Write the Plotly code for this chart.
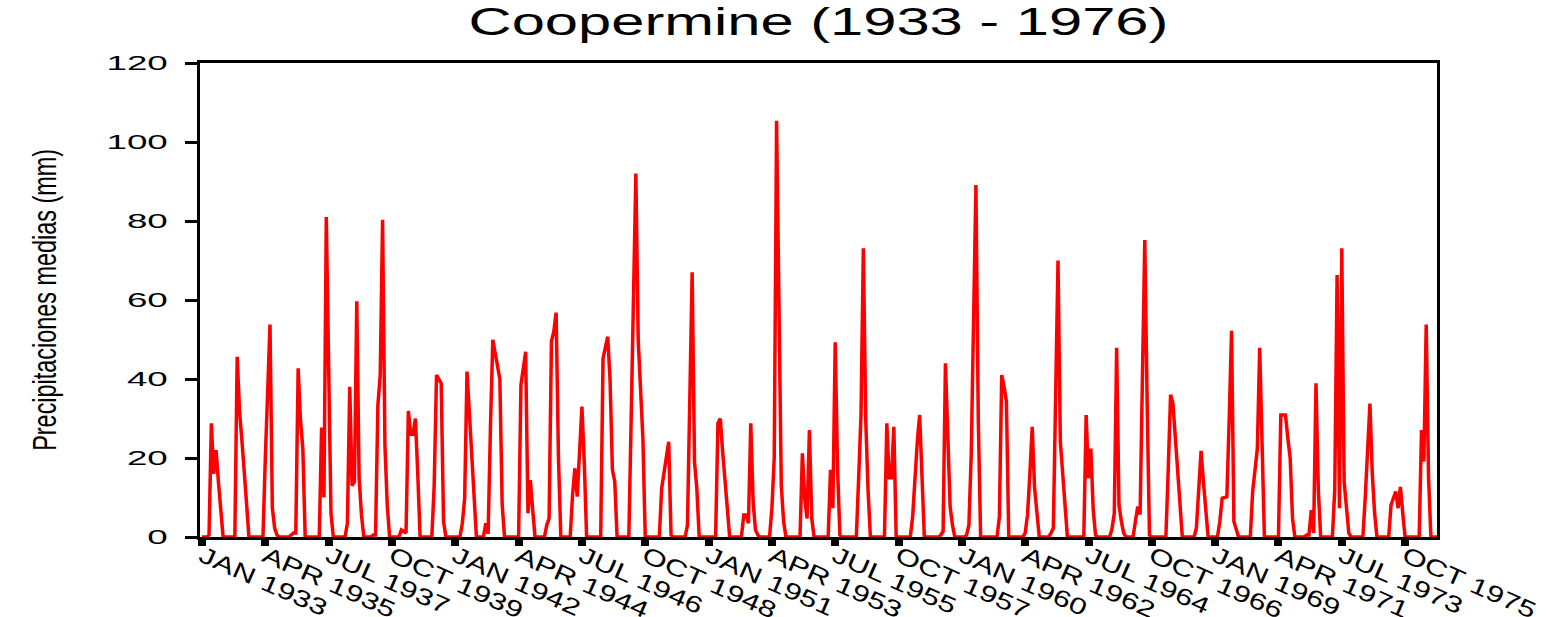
import plotly.graph_objects as go

years = list(range(1933, 1977))

p1933 = [0, 0, 0, 0.5, 28.8, 16, 22, 14, 5.6, 0, 0, 0]
p1934 = [0, 0, 0, 45.6, 32, 24.6, 15, 8.6, 0, 0, 0, 0]
p1935 = [0, 0, 0, 20, 38, 53.8, 7.3, 2.2, 0.5, 0, 0, 0]
p1936 = [0, 0, 0.5, 1, 1, 42.7, 29.6, 22.4, 0, 0, 0, 0]
p1937 = [0, 0, 0, 27.7, 10, 81, 45, 6, 0, 0, 0, 0]
p1938 = [0, 0, 3.5, 38, 13, 14, 59.7, 14.9, 5.6, 0, 0, 0]
p1939 = [0, 0.5, 0.5, 33.4, 41, 80.3, 23.3, 8, 0, 0, 0, 0]
p1940 = [0, 1.8, 1.5, 1, 31.9, 26, 26, 30, 16, 0, 0, 0]
p1941 = [0, 0, 0, 13, 41, 40, 38.9, 3.9, 0, 0, 0, 0]
p1942 = [0, 0, 0, 3.5, 9.8, 41.9, 30, 19.9, 10.6, 0, 0, 0]
p1943 = [0, 3.5, 0.8, 27.9, 49.9, 46.6, 43.3, 40, 8.2, 0, 0, 0]
p1944 = [0, 0, 0, 0, 38.5, 43, 46.9, 6, 14.4, 7, 0, 0]
p1945 = [0, 0, 0, 3, 4.7, 49.5, 52, 56.8, 20, 0, 0, 0]
p1946 = [0, 0, 10.6, 17.4, 10.2, 22, 33, 19, 0, 0, 0, 0]
p1947 = [0, 0, 0, 45.2, 48, 50.7, 39.7, 17, 14, 0, 0, 0]
p1948 = [0, 0, 0, 30, 64.6, 92, 49.9, 37, 25, 0, 0, 0]
p1949 = [0, 0, 0, 0, 12.3, 16, 19.9, 24.1, 0.5, 0, 0, 0]
p1950 = [0, 0, 0, 3, 35, 67, 19, 12.3, 0, 0, 0, 0]
p1951 = [0, 0, 0, 0, 28.8, 30, 21.6, 14, 6, 0, 0, 0]
p1952 = [0, 0, 0, 5.6, 5.6, 3.5, 28.8, 8.9, 1.8, 0.5, 0, 0]
p1953 = [0, 0, 0, 7.3, 20, 105.4, 55, 13.2, 3.9, 0, 0, 0]
p1954 = [0, 0, 0, 0, 21.2, 9.8, 4.7, 27.1, 4.7, 0, 0, 0]
p1955 = [0, 0, 0, 0, 17, 7.3, 49.3, 17.4, 0.5, 0, 0, 0]
p1956 = [0, 0, 0, 0, 14.9, 30.9, 73.1, 30, 12, 0, 0, 0]
p1957 = [0, 0, 0, 0, 28.8, 15, 15, 27.9, 0, 0, 0, 0]
p1958 = [0, 0, 0, 5, 15, 24.1, 30.9, 15, 0, 0, 0, 0]
p1959 = [0, 0, 0, 0.5, 1.4, 44, 22.4, 7.7, 3, 0, 0, 0]
p1960 = [0, 0, 0.5, 3, 20.8, 55, 89.1, 30, 0, 0, 0, 0]
p1961 = [0, 0, 0, 0, 5, 41, 38, 34.3, 0, 0, 0, 0]
p1962 = [0, 0, 0, 1, 5.6, 16, 27.9, 12.5, 6, 0, 0, 0]
p1963 = [0, 0, 1, 2.2, 36, 70, 24.1, 15, 8, 0, 0, 0]
p1964 = [0, 0, 0, 0, 0, 30.9, 14.9, 22.4, 7, 0.5, 0, 0]
p1965 = [0, 0, 0, 0, 2, 6, 47.9, 8.1, 4, 1, 0, 0]
p1966 = [0, 0, 4, 7.7, 5.7, 40, 75.2, 34.3, 0.5, 0, 0, 0]
p1967 = [0, 0, 0, 0, 17, 36, 33.8, 25.8, 16, 7, 0, 0]
p1968 = [0, 0, 0, 0, 2.2, 12, 21.8, 14, 6, 0, 0, 0]
p1969 = [0, 0, 4, 9.8, 10, 10.2, 30, 52.2, 3.9, 1.5, 0, 0]
p1970 = [0, 0, 0, 0, 11.5, 17, 22.4, 47.9, 20, 0, 0, 0]
p1971 = [0, 0, 0, 0, 30.9, 30.9, 30.9, 25, 19.9, 4.7, 0, 0]
p1972 = [0, 0, 0, 0.5, 0.5, 6.8, 1, 38.9, 12, 0, 0, 0]
p1973 = [0, 0, 0, 12, 66.3, 7.3, 73.1, 14, 7, 1, 0, 0]
p1974 = [0, 0, 0, 0, 10, 21.6, 33.8, 16.1, 6, 0, 0, 0]
p1975 = [0, 0, 0, 8.1, 10, 11.5, 7.3, 12.7, 6, 0, 0, 0]
p1976 = [0, 0, 0, 0, 27.1, 19.1, 53.8, 15, 0, 0, 0, 0]

tick_labels = ["JAN 1933", "APR 1935", "JUL 1937", "OCT 1939", "JAN 1942",
               "APR 1944", "JUL 1946", "OCT 1948", "JAN 1951", "APR 1953",
               "JUL 1955", "OCT 1957", "JAN 1960", "APR 1962", "JUL 1964",
               "OCT 1966", "JAN 1969", "APR 1971", "JUL 1973", "OCT 1975"]
tick_step_months = 27
y_ticks = [0, 20, 40, 60, 80, 100, 120]

yearly = [p1933, p1934, p1935, p1936, p1937, p1938, p1939, p1940, p1941, p1942,
          p1943, p1944, p1945, p1946, p1947, p1948, p1949, p1950, p1951, p1952,
          p1953, p1954, p1955, p1956, p1957, p1958, p1959, p1960, p1961, p1962,
          p1963, p1964, p1965, p1966, p1967, p1968, p1969, p1970, p1971, p1972,
          p1973, p1974, p1975, p1976]

values = [v for yr in yearly for v in yr]
months = list(range(len(values)))
tickvals = [i * tick_step_months for i in range(len(tick_labels))]

FONT = "Liberation Sans, Arial, sans-serif"

fig = go.Figure()
fig.add_trace(go.Scatter(x=months, y=values, mode="lines",
                         line=dict(color="#ff0000", width=3.5),
                         hoverinfo="skip", showlegend=False))

fig.update_layout(
    width=1554, height=617,
    margin=dict(l=200, r=117, t=63, b=80, autoexpand=False),
    paper_bgcolor="white", plot_bgcolor="white",
    font=dict(family=FONT, color="black"),
    title=dict(text="Coopermine (1933 - 1976)", x=0.5, xref="paper", xanchor="center",
               y=1 - 22 / 617, yref="container", yanchor="middle",
               font=dict(size=38, family=FONT, color="black")),
    xaxis=dict(range=[-0.85, 526.6], tickmode="array", tickvals=tickvals, ticktext=tick_labels,
               tickangle=24, ticks="outside", ticklen=6, tickwidth=8, tickcolor="black",
               showline=True, linecolor="black", linewidth=3, mirror=True,
               showgrid=False, zeroline=False, automargin=False, ticklabelstandoff=-12,
               tickfont=dict(size=23, family=FONT, color="black")),
    yaxis=dict(range=[0, 120], tickmode="array", tickvals=y_ticks,
               ticks="outside", ticklen=12, tickwidth=3, tickcolor="black",
               showline=True, linecolor="black", linewidth=3, mirror=True,
               showgrid=False, zeroline=False, ticklabelstandoff=13, automargin=False,
               tickfont=dict(size=21, family=FONT, color="black")),
    annotations=[dict(text="Precipitaciones medias (mm)", textangle=-90,
                      x=(44 - 200) / 1237, xref="paper", y=0.5, yref="paper",
                      xanchor="center", yanchor="middle", showarrow=False,
                      font=dict(size=34, family=FONT, color="black"))],
)

post = """
document.documentElement.style.margin = '0';
document.body.style.margin = '0';
document.body.style.padding = '0';
document.body.style.overflow = 'hidden';
var gd = document.getElementById('{plot_id}');
function stretch(sel, factor, fixed) {
  gd.querySelectorAll(sel).forEach(function(t) {
    try {
      var L = t.getComputedTextLength();
      var target = fixed ? fixed : L * factor;
      t.setAttribute('textLength', target);
      t.setAttribute('lengthAdjust', 'spacingAndGlyphs');
    } catch (e) {}
  });
}
stretch('.gtitle', 1.57);
stretch('.ytick text', 1.75);
stretch('.xtick text', 1.36);
stretch('.annotation-text', 1, 302);
"""

fig.write_html("out.html", config={"responsive": False, "displayModeBar": False},
               post_script=post)
